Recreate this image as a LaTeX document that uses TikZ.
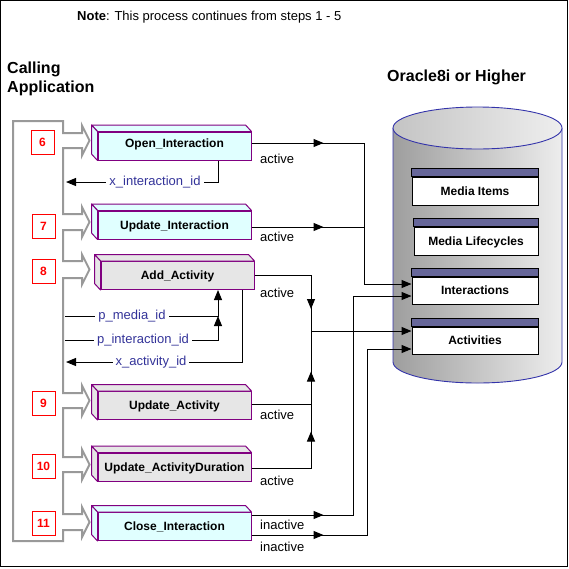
\documentclass[tikz,border=0pt]{standalone}
\usepackage{fontspec}
\setmainfont{Liberation Sans}
\usetikzlibrary{arrows.meta,decorations.markings,calc}

\definecolor{flowgray}{RGB}{153,153,153}
\definecolor{boxpurple}{RGB}{128,0,128}
\definecolor{cyanfill}{RGB}{224,255,255}
\definecolor{grayfill}{RGB}{230,230,230}
\definecolor{paramblue}{RGB}{51,51,153}
\definecolor{hdr}{RGB}{102,102,153}
\definecolor{cylborder}{RGB}{51,51,170}
\definecolor{cylL}{RGB}{158,158,158}
\definecolor{cylR}{RGB}{237,237,237}
\definecolor{topL}{RGB}{196,196,196}
\definecolor{topR}{RGB}{238,238,238}

\newcommand\myfs[1]{\fontsize{#1}{#1}\selectfont}
\newcommand\procfaces[2]{%
  \filldraw[fill=#2, draw=boxpurple, line width=1pt, line join=round]
    (#1.north west) -- ++(-6,-6.5) -- ([xshift=-6pt,yshift=6.5pt]#1.north east) -- (#1.north east) -- cycle;
  \filldraw[fill=#2, draw=boxpurple, line width=1pt, line join=round]
    (#1.north west) -- ++(-6,-6.5) -- ([xshift=-6pt,yshift=6.5pt]#1.south west) -- (#1.south west) -- cycle;
}

\tikzset{
  conn/.style={draw=black, line width=1pt},
  arr/.style={-{Triangle[length=10pt,width=8pt]}},
  midarr/.style={postaction={decorate,decoration={markings,mark=at position #1 with {\arrow{Triangle[length=10pt,width=8pt]}}}}},
  procbox/.style={draw=boxpurple, line width=1pt, minimum width=153pt, minimum height=28pt, inner sep=0pt, font=\bfseries\myfs{12}, text height=8.6pt, text depth=0pt},
  cyanbox/.style={procbox, fill=cyanfill},
  graybox/.style={procbox, fill=grayfill},
  numbox/.style={draw=red, fill=white, line width=1pt, minimum width=23pt, minimum height=24pt, inner sep=0pt, text=red, font=\bfseries\myfs{12}},
  tablebody/.style={draw=black, fill=white, line width=1pt, minimum width=126pt, minimum height=28pt, inner sep=0pt, font=\bfseries\myfs{12}, text height=8.6pt, text depth=0pt},
  paramlbl/.style={anchor=base, text=paramblue, fill=white, inner xsep=3pt, inner ysep=1pt, font=\myfs{13}},
  flowlbl/.style={anchor=base west, inner sep=0pt, font=\myfs{13}},
  titletext/.style={anchor=base west, inner sep=0pt, font=\bfseries\myfs{16}},
}

\begin{document}
\begin{tikzpicture}[x=1pt,y=-1pt]
\useasboundingbox (0,0) rectangle (569,568);
\draw[line width=1pt] (0.5,0.5) rectangle (567.5,566.5);

% titles
\node[anchor=base west, inner sep=0pt, font=\myfs{13}] (note) at (77,20) {\textbf{Note}: This process continues from steps 1 - 5};
\node[titletext] (calling) at (7,73) {Calling};
\node[titletext] (application) at (7,92) {Application};
\node[titletext] (oracle) at (387,81.5) {Oracle8i or Higher};

% database cylinder
\shade[left color=cylL, right color=cylR] (393,128) -- (393,362) arc[start angle=180, end angle=0, x radius=84.5, y radius=21] -- (562,128) -- cycle;
\draw[cylborder, line width=0.9pt] (393,128) -- (393,362) arc[start angle=180, end angle=0, x radius=84.5, y radius=21] -- (562,128);
\shade[left color=topL, right color=topR] (477.5,128) ellipse[x radius=84.5, y radius=21];
\draw[cylborder, line width=0.9pt] (477.5,128) ellipse[x radius=84.5, y radius=21];

% tables
\node[tablebody] (mi) at (475,191) {Media Items};
\node[tablebody, minimum width=124pt] (ml) at (476,241) {Media Lifecycles};
\node[tablebody, minimum height=27pt] (int) at (475,290.5) {Interactions};
\node[tablebody, minimum height=27pt] (act) at (475,340.5) {Activities};
\foreach \t in {mi,ml,int,act}{
  \filldraw[fill=hdr, draw=black, line width=1pt] (\t.north west) rectangle ([yshift=8.5pt]\t.north east);
}

% gray flow
\draw[flowgray, line width=2pt, line join=miter]
  (13,121) -- (63,121) -- (63,133) -- (82,133) -- (82,125.5) -- (89.5,140.5) -- (82,155.5) -- (82,148) -- (63,148)
  -- (63,214) -- (82,214) -- (82,207) -- (89.5,222) -- (82,237) -- (82,230) -- (63,230)
  -- (63,261) -- (82,261) -- (82,254.5) -- (89.5,269.5) -- (82,284.5) -- (82,278) -- (63,278)
  -- (63,393) -- (82,393) -- (82,385.5) -- (89.5,400.5) -- (82,415.5) -- (82,408) -- (63,408)
  -- (63,457) -- (82,457) -- (82,449.5) -- (89.5,464.5) -- (82,479.5) -- (82,472) -- (63,472)
  -- (63,514) -- (82,514) -- (82,507) -- (89.5,522) -- (82,537) -- (82,530) -- (63,530)
  -- (63,541) -- (13,541) -- cycle;

% step numbers
\node[numbox] (n6) at (42.5,142) {6};
\node[numbox] (n7) at (43.5,226) {7};
\node[numbox] (n8) at (43.5,271) {8};
\node[numbox] (n9) at (43.5,403) {9};
\node[numbox] (n10) at (43.5,466) {10};
\node[numbox] (n11) at (43.5,523) {11};

% process boxes
\node[cyanbox, text depth=6pt] (oi) at (174.5,146) {Open\_Interaction};
\procfaces{oi}{cyanfill}
\node[cyanbox] (ui) at (174.5,225) {Update\_Interaction};
\procfaces{ui}{cyanfill}
\node[graybox] (aa) at (177.5,275.5) {Add\_Activity};
\procfaces{aa}{grayfill}
\node[graybox] (ua) at (174.5,405.5) {Update\_Activity};
\procfaces{ua}{grayfill}
\node[graybox] (uad) at (174.5,467) {Update\_ActivityDuration};
\procfaces{uad}{grayfill}
\node[cyanbox] (ci) at (174.5,526.5) {Close\_Interaction};
\procfaces{ci}{cyanfill}

% coordinates
\coordinate (V1) at (364,143);
\coordinate (V2) at (353,296);
\coordinate (V3) at (367,349);
\coordinate (J) at (311,331);
\coordinate (gA) at (66,182);
\coordinate (gB) at (65,316);
\coordinate (gC) at (65,340);
\coordinate (gD) at (66,362);
\coordinate (jP) at (218,316);

% connectors to database
\draw[conn, arr, midarr=72pt] ([yshift=3pt]oi.east) -- (V1) |- ([yshift=6.5pt]int.west);
\draw[conn, midarr=72pt] ([yshift=-2pt]ui.east) -- ([yshift=-2pt]ui.east -| V1);
\draw[conn, midarr=90pt] (aa.east) -| (J);
\draw[conn, midarr=92pt] ([yshift=1.5pt]ua.east) -| (J);
\draw[conn, midarr=96pt] ([yshift=-1pt]uad.east) -| (J);
\draw[conn, arr] (J) -- ([yshift=9.5pt]act.west);
\draw[conn, arr, midarr=72pt] ([yshift=11.5pt]ci.east) -| (V2) -- ([yshift=-5.5pt]int.west);
\draw[conn, arr, midarr=72pt] ([yshift=-8.5pt]ci.east) -| (V3) -- ([yshift=-8.5pt]act.west);

% parameter connectors
\draw[conn, arr] ([xshift=43.5pt]oi.south) |- (gA);
\draw[conn, arr] (gB) -| ([xshift=40.5pt]aa.south);
\draw[conn, arr] (gC) -| (jP);
\draw[conn, arr] ([xshift=65pt]aa.south) |- (gD);

\node[paramlbl] (xii) at (155,185.5) {x\_interaction\_id};
\node[paramlbl] (pmi) at (132,319.5) {p\_media\_id};
\node[paramlbl] (pii) at (143,343.5) {p\_interaction\_id};
\node[paramlbl] (xai) at (151,365.5) {x\_activity\_id};

% flow labels
\node[flowlbl] (l1) at (260,163) {active};
\node[flowlbl] (l2) at (260,241.5) {active};
\node[flowlbl] (l3) at (260,297) {active};
\node[flowlbl] (l4) at (260,419) {active};
\node[flowlbl] (l5) at (260,485) {active};
\node[flowlbl] (l6) at (260,529) {inactive};
\node[flowlbl] (l7) at (260,551) {inactive};
\end{tikzpicture}
\end{document}
